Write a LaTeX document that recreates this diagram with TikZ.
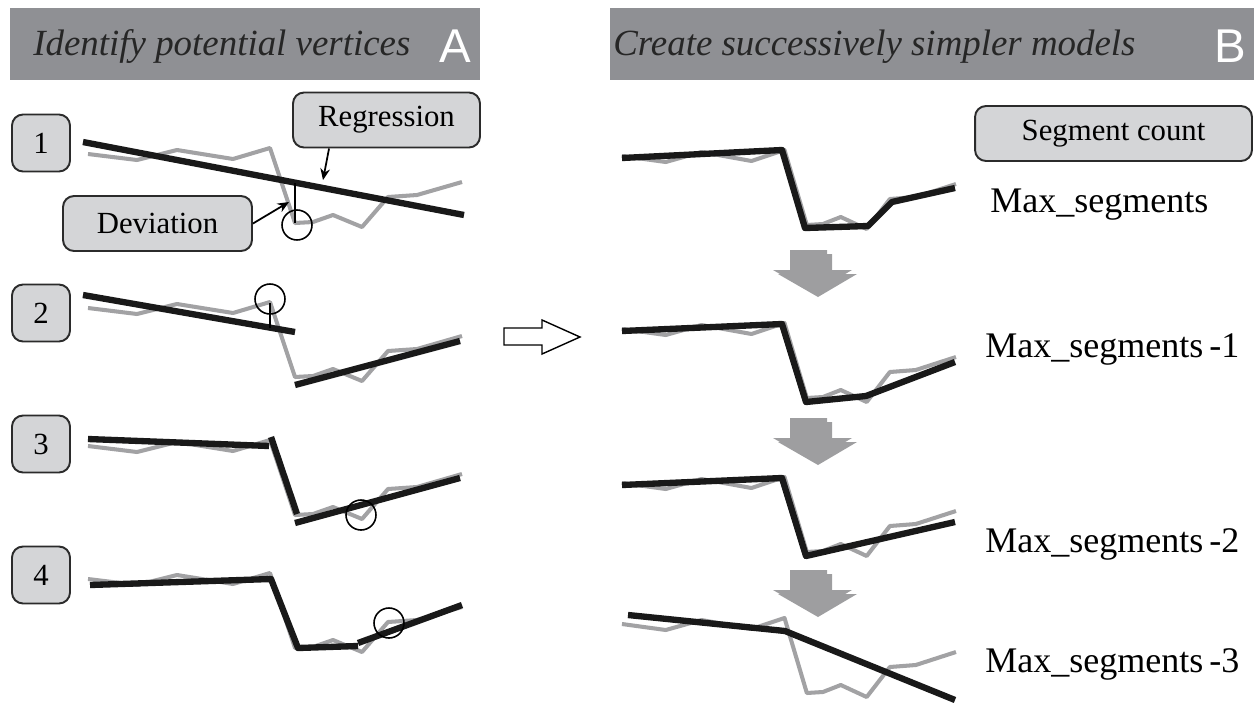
\documentclass[tikz,border=0pt]{standalone}
\usepackage{fontspec}
\setmainfont{Liberation Serif}[ItalicFont={Liberation Serif Italic}]
\newfontfamily\lettersans{Liberation Sans}
\usepackage{xcolor}
\definecolor{bandgray}{HTML}{8F9094}
\definecolor{boxgray}{HTML}{D4D5D7}
\definecolor{boxedge}{HTML}{2B2B2B}
\definecolor{seriesgray}{HTML}{A2A2A4}
\definecolor{arrowgray}{HTML}{9E9EA0}
\usepackage{tikz}
\usetikzlibrary{positioning, arrows.meta, calc}
\tikzset{
    band/.style = {fill=bandgray, anchor=north west, inner sep=0pt,
                   minimum height=1.44cm},
    title/.style = {anchor=base west, inner sep=0pt, text=black!85,
                    font=\fontsize{21}{25}\selectfont\itshape},
    letter/.style = {anchor=base east, inner sep=0pt, text=white,
                     font=\lettersans\fontsize{27}{30}\selectfont},
    stepbox/.style = {draw=boxedge, fill=boxgray, line width=1.1pt,
                      rounded corners=2.2mm, minimum width=1.16cm,
                      minimum height=1.14cm, inner sep=0pt,
                      font=\fontsize{17.5}{20}\selectfont},
    callout/.style = {stepbox, minimum height=1.1cm},
    series/.style = {draw=seriesgray, line width=2.3pt, line join=round},
    model/.style = {draw=black!90, line width=3.6pt, line join=round},
    vtx/.style = {circle, draw, line width=0.9pt, minimum size=0.6cm,
                  inner sep=0pt},
    gap/.style = {draw, line width=0.9pt},
    pointer/.style = {-{Stealth[length=6.5pt, width=5.5pt]}, line width=1pt},
    count/.style = {anchor=base west, inner sep=0pt,
                    font=\fontsize{20.5}{24}\selectfont},
}
% the raw series, drawn in the frame of row 1 on the left
\newcommand{\rawseries}[1]{%
  \draw[series, #1] (88,154) -- (137,160) -- (177,150) -- (233,159)
    -- (270,148) -- (295,223) -- (313,222) -- (333,215) -- (362,227)
    -- (388,197) -- (417,195) -- (462,182);}
% grey block arrow between the models
\newcommand{\shrinkarrow}[1]{%
  \fill[arrowgray, shift={(5,#1+4)}] (790,0) -- (827,0) -- (827,20)
    -- (852,20) -- (813,43) -- (773,20) -- (790,20) -- cycle;
  \fill[arrowgray, shift={(0,#1)}] (790,0) -- (827,0) -- (827,20)
    -- (852,20) -- (813,43) -- (773,20) -- (790,20) -- cycle;}

\begin{document}
\begin{tikzpicture}[x=0.02cm, y=-0.02cm]
    \useasboundingbox (0,0) rectangle (1254,707);

    % headers
    \node[band, minimum width=9.4cm] (bandA) at (10,8) {};
    \node[band, minimum width=12.88cm] (bandB) at (610,8) {};
    \node[title] (titleA) at (33,55) {Identify potential vertices};
    \node[letter] (letterA) at (471,62) {A};
    \node[title] (titleB) at (613,55) {Create successively simpler models};
    \node[letter] (letterB) at (1246,62) {B};

    % A: step numbers
    \node[stepbox] (s1) at (41,143) {1};
    \node[stepbox] (s2) at (41,313) {2};
    \node[stepbox] (s3) at (41,444) {3};
    \node[stepbox] (s4) at (41,575) {4};

    % A: data
    \rawseries{}
    \rawseries{shift={(0,154)}}
    \rawseries{shift={(0,292)}}
    \rawseries{shift={(0,425)}}

    % A: fitted lines
    \draw[model] (83,142) -- (464,215);
    \draw[model] (83,295) -- (295,332);
    \draw[model] (295,385) -- (460,341);
    \draw[model] (88,439) -- (269,446);
    \draw[model] (271,437) -- (297,514);
    \draw[model] (295,523) -- (460,478);
    \draw[model] (90,585) -- (271,579) -- (298,648) -- (358,646);
    \draw[model] (358,643) -- (462,605);

    % A: candidate vertices
    \node[vtx] (c1) at (297,225) {};
    \node[vtx] (c2) at (270,299) {};
    \node[vtx] (c3) at (361,515) {};
    \node[vtx] (c4) at (389,623) {};
    \draw[gap] (295,183) -- (295,223);
    \draw[gap] (270,303) -- (270,328);

    % A: callouts
    \node[callout, minimum width=3.74cm] (reg) at (386.5,120) {Regression};
    \node[callout, minimum width=3.78cm] (dev) at (157.5,223.5) {Deviation};
    \coordinate (regtip) at (323,180);
    \coordinate (devtip) at (289,202);
    \draw[pointer] ([xshift=0.74cm]reg.south west) -- (regtip);
    \draw[pointer] (dev.east) -- (devtip);

    % hollow arrow A -> B
    \draw[line width=0.8pt, fill=white] (504,328) -- (542,328) -- (542,320)
        -- (580,337) -- (542,354) -- (542,345) -- (504,345) -- cycle;

    % B: data
    \rawseries{shift={(543.4,2)}, xscale=0.893}
    \rawseries{shift={(543.4,175)}, xscale=0.893}
    \rawseries{shift={(543.4,329)}, xscale=0.893}
    \rawseries{shift={(543.4,470)}, xscale=0.893}

    % B: models
    \draw[model] (622,158) -- (782,150) -- (805,228) -- (868,226)
        -- (892,202) -- (955,188);
    \draw[model] (622,331) -- (782,324) -- (806,402) -- (866,396)
        -- (955,362);
    \draw[model] (622,485) -- (782,478) -- (806,556) -- (955,522);
    \draw[model] (628,615) -- (785,631) -- (955,700);

    \shrinkarrow{250}
    \shrinkarrow{418}
    \shrinkarrow{570}

    % B: segment counts
    \node[callout, minimum width=5.54cm] (segcount) at (1113.5,133.5) {Segment count};
    \node[count] (cnt0) at (990,212) {Max\_segments};
    \node[count] (cnt1) at (985,357) {Max\_segments\,-1};
    \node[count] (cnt2) at (985,552) {Max\_segments\,-2};
    \node[count] (cnt3) at (985,672) {Max\_segments\,-3};
\end{tikzpicture}
\end{document}
